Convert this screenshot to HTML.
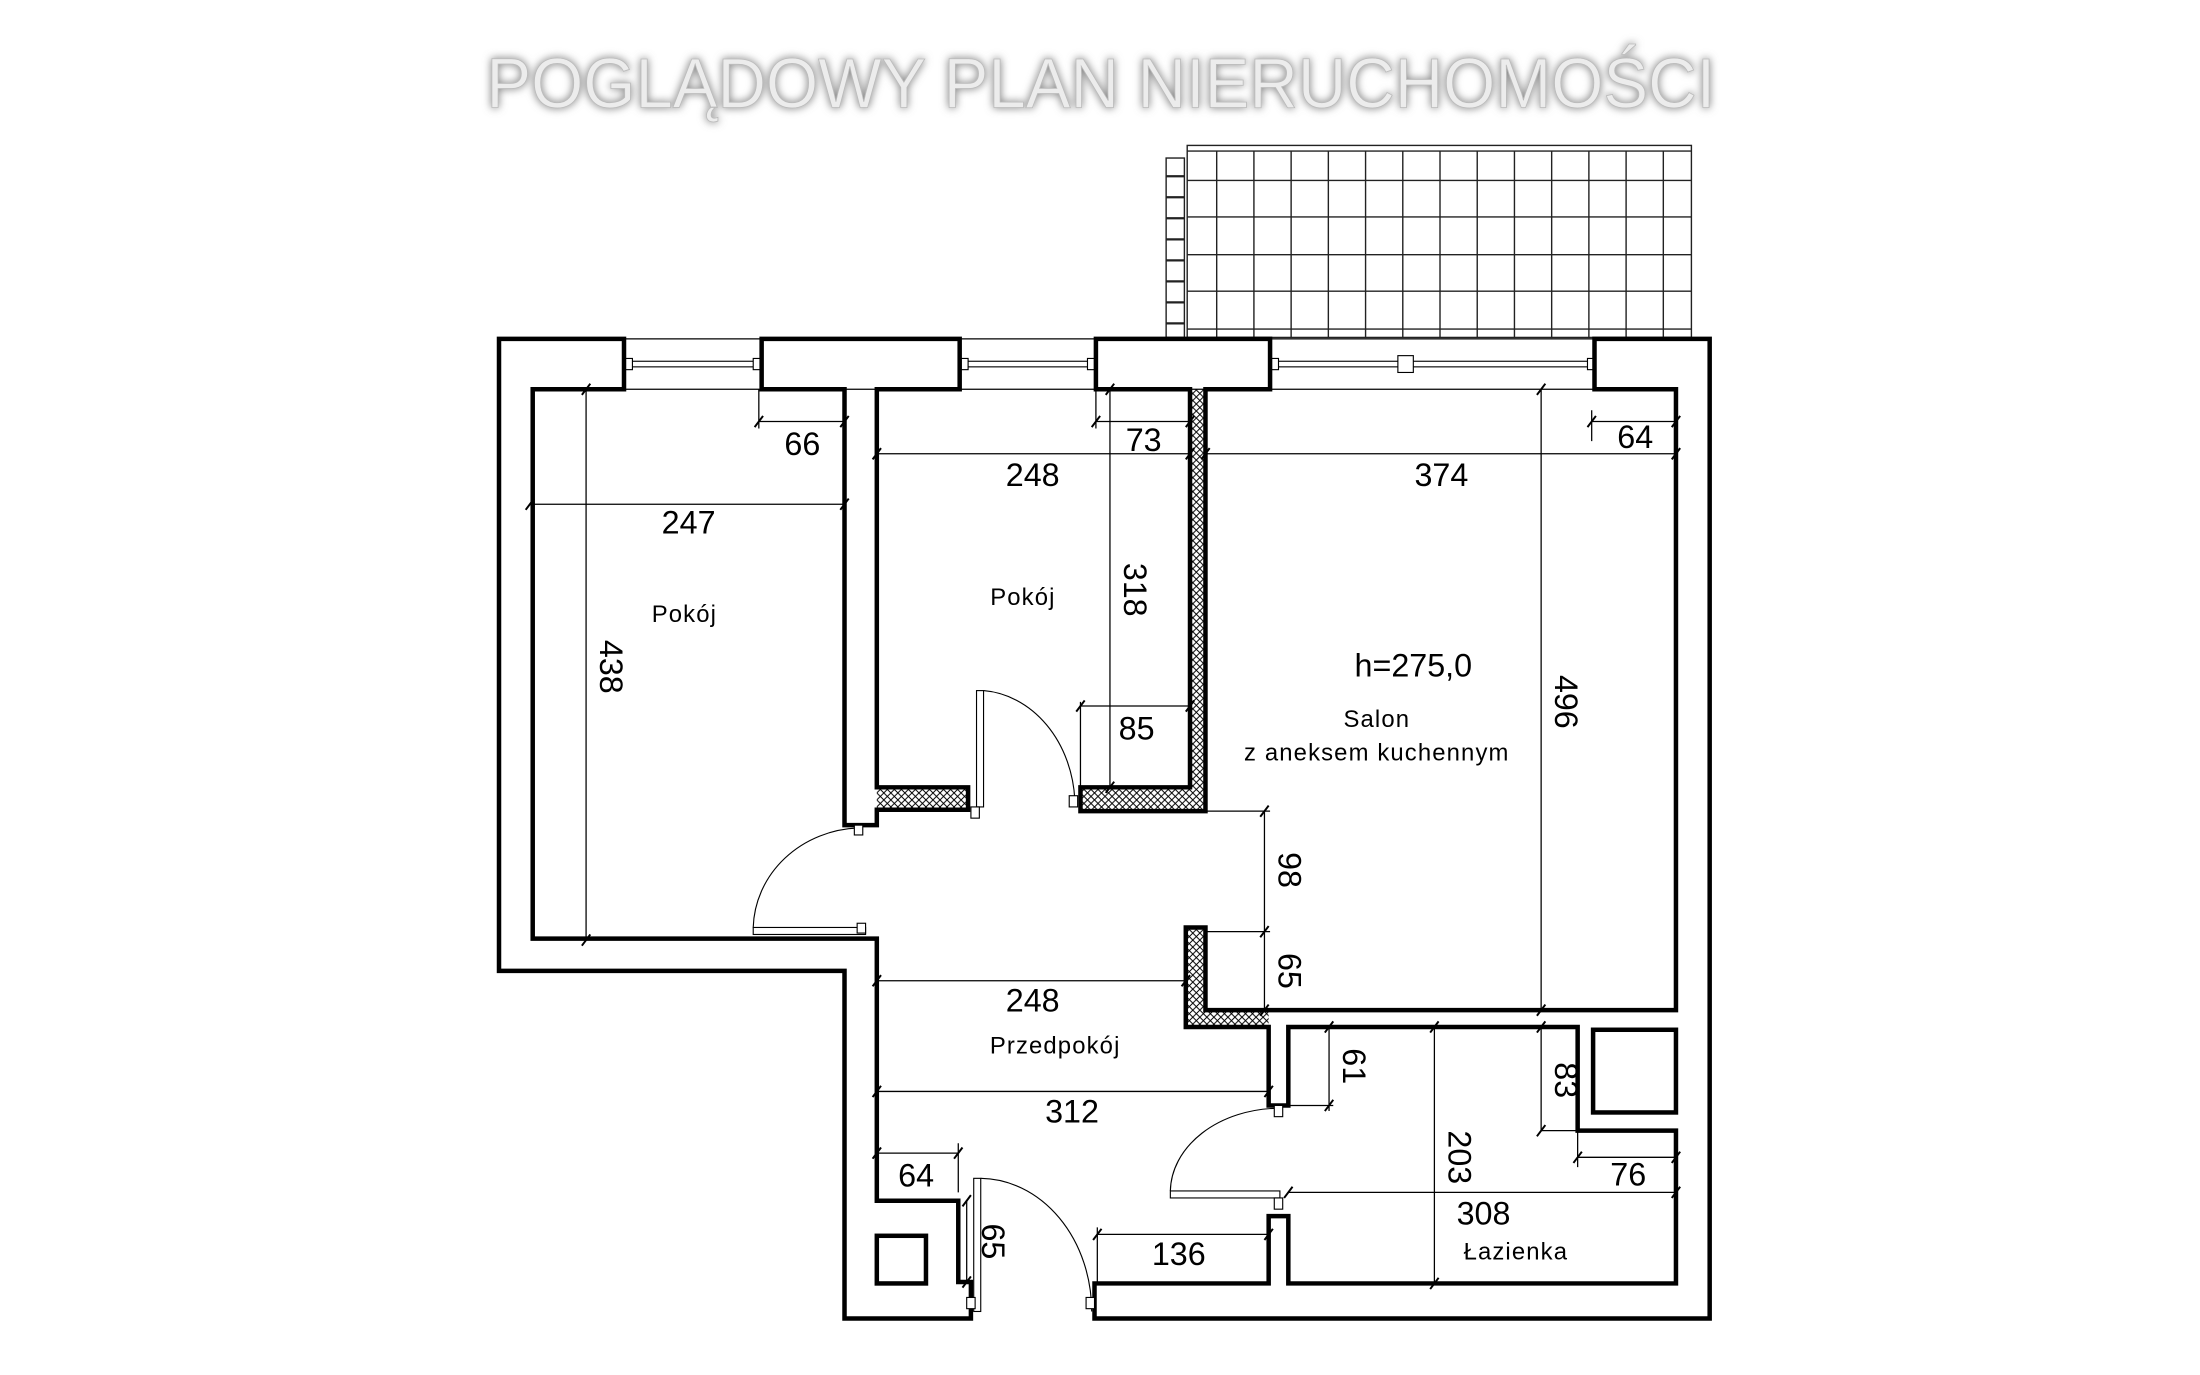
<!DOCTYPE html>
<html><head><meta charset="utf-8"><style>
html,body{margin:0;padding:0;background:#fff;}
svg{display:block;}
.w{fill:none;stroke:#000;stroke-width:3.2;stroke-linejoin:miter;}
.t{fill:none;stroke:#000;stroke-width:0.9;}
.g{fill:none;stroke:#222;stroke-width:1;}
.n{font-family:"Liberation Sans",sans-serif;font-size:23px;fill:#000;text-anchor:middle;}
.r{font-family:"Liberation Sans",sans-serif;font-size:17px;fill:#000;text-anchor:middle;letter-spacing:0.8px;}
</style></head><body>
<svg width="2200" height="1375" viewBox="0 0 1552 970" preserveAspectRatio="none" xmlns="http://www.w3.org/2000/svg">
<defs>
<pattern id="h" width="5" height="5" patternUnits="userSpaceOnUse">
<path d="M0,0 L5,5 M5,0 L0,5" stroke="#000" stroke-width="0.7"/>
</pattern>
<filter id="gl" x="-5%" y="-50%" width="110%" height="200%">
<feGaussianBlur in="SourceAlpha" stdDeviation="3" result="b"/>
<feFlood flood-color="#777"/><feComposite in2="b" operator="in" result="s"/>
<feMerge><feMergeNode in="s"/><feMergeNode in="SourceGraphic"/></feMerge>
</filter>
</defs>
<rect width="1552" height="970" fill="#fff"/>
<g transform="matrix(0.9908 0 0 0.9887 -0.7 0.75)">
<text x="347" y="76" font-family="Liberation Sans, sans-serif" font-size="50" fill="#ececec" stroke="#bbb" stroke-width="0.6" textLength="875" lengthAdjust="spacingAndGlyphs" filter="url(#gl)">POGLĄDOWY PLAN NIERUCHOMOŚCI</text>

<g class="g">
<rect x="846" y="103" width="359" height="137"/>
<line x1="846" y1="107" x2="1205" y2="107"/>
<line x1="846" y1="128" x2="1205" y2="128"/>
<line x1="846" y1="154" x2="1205" y2="154"/>
<line x1="846" y1="181" x2="1205" y2="181"/>
<line x1="846" y1="207" x2="1205" y2="207"/>
<line x1="846" y1="234" x2="1205" y2="234"/>
<line x1="867" y1="107" x2="867" y2="240"/><line x1="893.5" y1="107" x2="893.5" y2="240"/>
<line x1="920" y1="107" x2="920" y2="240"/><line x1="946.5" y1="107" x2="946.5" y2="240"/>
<line x1="973" y1="107" x2="973" y2="240"/><line x1="999.5" y1="107" x2="999.5" y2="240"/>
<line x1="1026" y1="107" x2="1026" y2="240"/><line x1="1052.5" y1="107" x2="1052.5" y2="240"/>
<line x1="1079" y1="107" x2="1079" y2="240"/><line x1="1105.5" y1="107" x2="1105.5" y2="240"/>
<line x1="1132" y1="107" x2="1132" y2="240"/><line x1="1158.5" y1="107" x2="1158.5" y2="240"/>
<line x1="1185" y1="107" x2="1185" y2="240"/>
<rect x="831" y="112" width="13" height="128"/>
<path d="M831,125H844M831,140H844M831,155H844M831,170H844M831,185H844M831,200H844M831,215H844M831,230H844" stroke-width="1.6"/>
</g>

<g class="t">
<line x1="445" y1="241" x2="1136" y2="241"/>
<line x1="445" y1="277" x2="1136" y2="277"/>
</g>
<g fill="#fff" stroke="#000" stroke-width="0.8">
<rect x="449" y="257" width="90" height="4"/>
<rect x="446" y="255" width="5" height="8"/><rect x="537" y="255" width="5" height="8"/>
<rect x="688" y="257" width="89" height="4"/>
<rect x="685" y="255" width="5" height="8"/><rect x="775" y="255" width="5" height="8"/>
<rect x="909" y="257" width="223" height="4"/>
<rect x="906" y="255" width="5" height="8"/><rect x="1131" y="255" width="5" height="8"/>
<rect x="996" y="253" width="11" height="12"/>
</g>

<g fill="url(#h)" stroke="none">
<rect x="625" y="561" width="65" height="16"/>
<path d="M848,277H859V578H770V561H848Z"/>
<path d="M845,661H859V720H904V732H845Z"/>
</g>

<path class="w" d="M445,241H356V692H602V940H692V914H683V856H625V669H380V277H445Z"/>
<path class="w" d="M543,241H684V277H625V561H690V577H625V588H602V277H543Z"/>
<path class="w" d="M781,241H905V277H859V578H770V561H848V277H781Z"/>
<path class="w" d="M1136,241H1218V940H780V915H904V867H918V915H1194V806H1124V732H918V788H904V732H845V661H859V720H1194V277H1136Z"/>
<rect class="w" x="1135" y="734" width="59" height="59"/>
<rect class="w" x="625" y="881" width="35" height="34"/>

<g fill="#fff" stroke="#000" stroke-width="0.8">
<rect x="696" y="492" width="5" height="83"/>
<path d="M701,492 A70,83 0 0 1 766,570" fill="none"/>
<rect x="692" y="575" width="6" height="8"/><rect x="762" y="567" width="6" height="8"/>
<rect x="537" y="661" width="80" height="5"/>
<path d="M537,661 A78,73 0 0 1 612,590" fill="none"/>
<rect x="609" y="588" width="6" height="7"/><rect x="611" y="658" width="6" height="7"/>
<rect x="834" y="849" width="78" height="5"/>
<path d="M834,849 A78,60 0 0 1 910,790" fill="none"/>
<rect x="908" y="788" width="6" height="8"/><rect x="908" y="854" width="6" height="8"/>
<rect x="694" y="840" width="5" height="95"/>
<path d="M699,840 A80,95 0 0 1 778,935" fill="none"/>
<rect x="689" y="925" width="6" height="8"/><rect x="774" y="925" width="6" height="8"/>
</g>

<g class="t">
<path d="M541,277V305M541,300H602"/>
<path d="M378,359H602"/>
<path d="M418,277V670"/>
<path d="M625,323H848"/>
<path d="M781,277V305M781,300H848"/>
<path d="M791,277V561"/>
<path d="M770,500V561M770,503H848"/>
<path d="M859,323H1194"/>
<path d="M1098,277V720"/>
<path d="M1134,292V314M1134,300H1194"/>
<path d="M859,578H905M901,578V720M859,664H905"/>
<path d="M625,699H845"/>
<path d="M625,778H904"/>
<path d="M947,732V792M918,788H950"/>
<path d="M1022,732V915"/>
<path d="M1098,732V806H1124"/>
<path d="M1124,806V832M1124,825H1194"/>
<path d="M918,850H1194"/>
<path d="M625,822H683M683,815V850"/>
<path d="M689,856V914"/>
<path d="M782,875V915M782,880H904"/>
</g>
<g stroke="#000" stroke-width="1.4">
<path d="M538,304l6,-8M599,304l6,-8M375,363l6,-8M599,363l6,-8M415,281l6,-8M415,674l6,-8"/>
<path d="M622,327l6,-8M845,327l6,-8M778,304l6,-8M845,304l6,-8M788,281l6,-8M788,565l6,-8"/>
<path d="M767,507l6,-8M845,507l6,-8M856,327l6,-8M1191,327l6,-8M1095,281l6,-8M1095,724l6,-8"/>
<path d="M1131,304l6,-8M1191,304l6,-8M898,582l6,-8M898,668l6,-8M898,724l6,-8"/>
<path d="M622,703l6,-8M842,703l6,-8M622,782l6,-8M901,782l6,-8M944,736l6,-8M944,792l6,-8"/>
<path d="M1019,736l6,-8M1019,919l6,-8M1095,736l6,-8M1095,810l6,-8M1121,829l6,-8M1191,829l6,-8"/>
<path d="M915,854l6,-8M1191,854l6,-8M622,826l6,-8M680,826l6,-8M686,860l6,-8M686,918l6,-8"/>
<path d="M779,884l6,-8M901,884l6,-8"/>
</g>

<g class="n">
<text x="572" y="324">66</text>
<text x="491" y="380">247</text>
<text x="736" y="346">248</text>
<text x="815" y="321">73</text>
<text x="810" y="527">85</text>
<text x="1027" y="346">374</text>
<text x="1165" y="319">64</text>
<text x="736" y="721">248</text>
<text x="764" y="800">312</text>
<text x="1160" y="845">76</text>
<text x="1057" y="873">308</text>
<text x="653" y="846">64</text>
<text x="840" y="902">136</text>
<text x="1007" y="482">h=275,0</text>
<text transform="translate(428,475) rotate(90)">438</text>
<text transform="translate(801,420) rotate(90)">318</text>
<text transform="translate(1108,500) rotate(90)">496</text>
<text transform="translate(911,620) rotate(90)">98</text>
<text transform="translate(911,692) rotate(90)">65</text>
<text transform="translate(957,760) rotate(90)">61</text>
<text transform="translate(1032,825) rotate(90)">203</text>
<text transform="translate(1108,770) rotate(90)">83</text>
<text transform="translate(700,885) rotate(90)">65</text>
</g>
<g class="r">
<text x="488" y="443">Pokój</text>
<text x="729" y="431">Pokój</text>
<text x="981" y="518">Salon</text>
<text x="981" y="542">z aneksem kuchennym</text>
<text x="752" y="751">Przedpokój</text>
<text x="1080" y="898">Łazienka</text>
</g>
</g>
</svg>
</body></html>
